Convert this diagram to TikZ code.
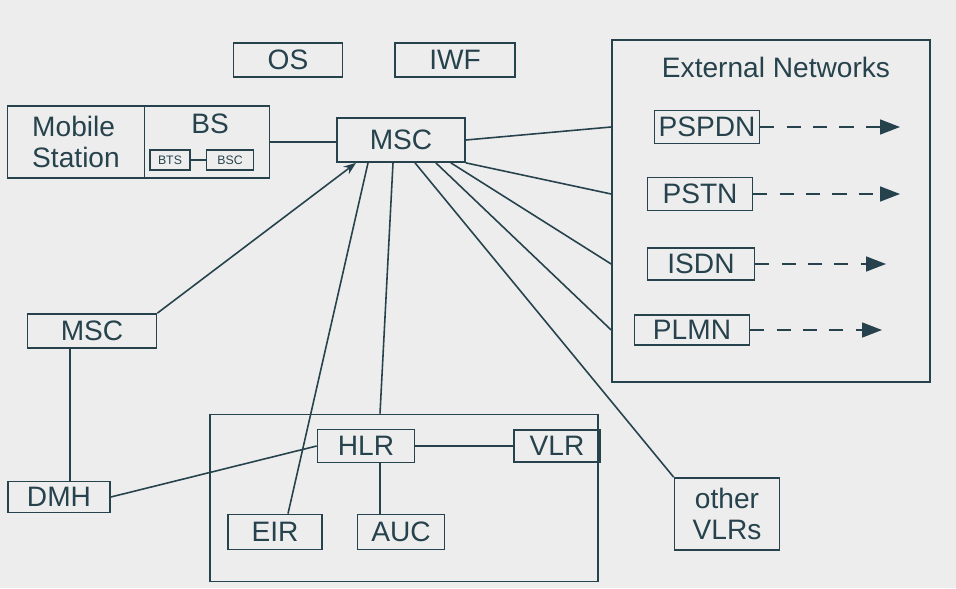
\documentclass[tikz,border=0pt]{standalone}
\usepackage{fontspec}
\setsansfont{Liberation Sans}
\usepackage{tikz}
\usetikzlibrary{arrows.meta, positioning, calc, backgrounds}
\definecolor{inkblue}{RGB}{38,66,76}
\definecolor{paper}{RGB}{237,237,237}

\begin{document}
\begin{tikzpicture}[
        x=0.02cm, y=-0.02cm,
        unit/.style={rectangle, draw=inkblue, line width=1pt, inner sep=0pt, font=\sffamily\fontsize{16}{18}\selectfont, text=inkblue},
        small/.style={rectangle, draw=inkblue, line width=0.8pt, inner sep=0pt, minimum height=0.4cm, font=\sffamily\scriptsize, text=inkblue},
        group/.style={rectangle, draw=inkblue, line width=1pt, inner sep=0pt},
        link/.style={draw=inkblue, line width=0.9pt},
        extarrow/.style={-{Triangle[length=4mm, width=3mm]}, dash pattern=on 8pt off 7pt, line width=0.9pt, inkblue}
    ]

    % paper
    \fill[paper] (0,0) rectangle (956,588);
    \useasboundingbox (0,0) rectangle (956,588);

    % Top row
    \node[unit, minimum width=2.18cm, minimum height=0.68cm] (os) at (288,60) {OS};
    \node[unit, minimum width=2.4cm, minimum height=0.68cm] (iwf) at (455,60) {IWF};

    % Mobile station and base station
    \node[unit, minimum width=2.74cm, minimum height=1.44cm, align=left] (ms) at (76,142) {Mobile\\Station};
    \node[group, minimum width=2.5cm, minimum height=1.44cm] (bs) at (207,142) {};
    \node[font=\sffamily\fontsize{16}{18}\selectfont, text=inkblue] (bslabel) at (210,124) {BS};
    \node[small, minimum width=0.8cm] (bts) at (170,160) {BTS};
    \node[small, minimum width=0.94cm] (bsc) at (230,160) {BSC};
    \draw[link] (bts) -- (bsc);

    % Switching centres
    \node[unit, minimum width=2.56cm, minimum height=0.88cm] (msc) at (401,140) {MSC};
    \node[unit, minimum width=2.58cm, minimum height=0.68cm] (msc2) at (92,331) {MSC};
    \node[unit, minimum width=2.04cm, minimum height=0.62cm] (dmh) at (59,497) {DMH};

    % External networks
    \node[group, minimum width=6.36cm, minimum height=6.84cm] (ext) at (771,211) {};
    \node[font=\sffamily\fontsize{16}{18}\selectfont, text=inkblue] (extlabel) at (776,67) {External Networks};
    \node[unit, minimum width=2.1cm, minimum height=0.66cm] (pspdn) at (707,127) {PSPDN};
    \node[unit, minimum width=2.1cm, minimum height=0.66cm] (pstn) at (700,194) {PSTN};
    \node[unit, minimum width=2.14cm, minimum height=0.64cm] (isdn) at (701,264) {ISDN};
    \node[unit, minimum width=2.3cm, minimum height=0.6cm] (plmn) at (692,330) {PLMN};
    \coordinate (pspdnend) at (900,127);
    \coordinate (pstnend) at (900,194);
    \coordinate (isdnend) at (886,264);
    \coordinate (plmnend) at (882,330);

    % Registers
    \node[group, minimum width=7.76cm, minimum height=3.34cm] (reg) at (404,498) {};
    \node[unit, minimum width=1.94cm, minimum height=0.66cm] (hlr) at (366,446) {HLR};
    \node[unit, minimum width=1.72cm, minimum height=0.64cm] (vlr) at (557,446) {VLR};
    \node[unit, minimum width=1.88cm, minimum height=0.7cm] (eir) at (275,532) {EIR};
    \node[unit, minimum width=1.74cm, minimum height=0.7cm] (auc) at (401,532) {AUC};
    \node[unit, minimum width=2.1cm, minimum height=1.44cm, align=center] (ovlr) at (727,514) {other\\VLRs};

    % Arrows
    \draw[link] (bs.east) -- (bs.east -| msc.west);
    \draw[link, -{Stealth[length=2.5mm]}] (msc2.north east) -- ([xshift=-0.9cm]msc.south);
    \draw[link] ([xshift=0.26cm]eir.north) -- ([xshift=-0.66cm]msc.south);
    \draw[link] ([xshift=-0.16cm]msc.south) -- ([xshift=0.28cm]hlr.north |- reg.north);
    \draw[link] ([xshift=0.28cm]msc.south) -- (ovlr.north west);
    \draw[link] (msc.east) -- (ext.west |- pspdn);
    \draw[link] (msc.south east) -- (ext.west |- pstn);
    \draw[link] ([xshift=-0.3cm]msc.south east) -- (ext.west |- isdn);
    \draw[link] ([xshift=-0.6cm]msc.south east) -- (ext.west |- plmn);
    \draw[link] ([xshift=-0.44cm]msc2.south) -- ([xshift=-0.44cm]msc2.south |- dmh.north);
    \draw[link] (dmh.east) -- (hlr.west);
    \draw[link] (hlr.east) -- (vlr.west);
    \draw[link] ([xshift=0.28cm]hlr.south) -- ([xshift=0.28cm]hlr.south |- auc.north);
    \draw[extarrow] (pspdn.east) -- (pspdnend);
    \draw[extarrow] (pstn.east) -- (pstnend);
    \draw[extarrow] (isdn.east) -- (isdnend);
    \draw[extarrow] (plmn.east) -- (plmnend);

    \end{tikzpicture}
\end{document}
